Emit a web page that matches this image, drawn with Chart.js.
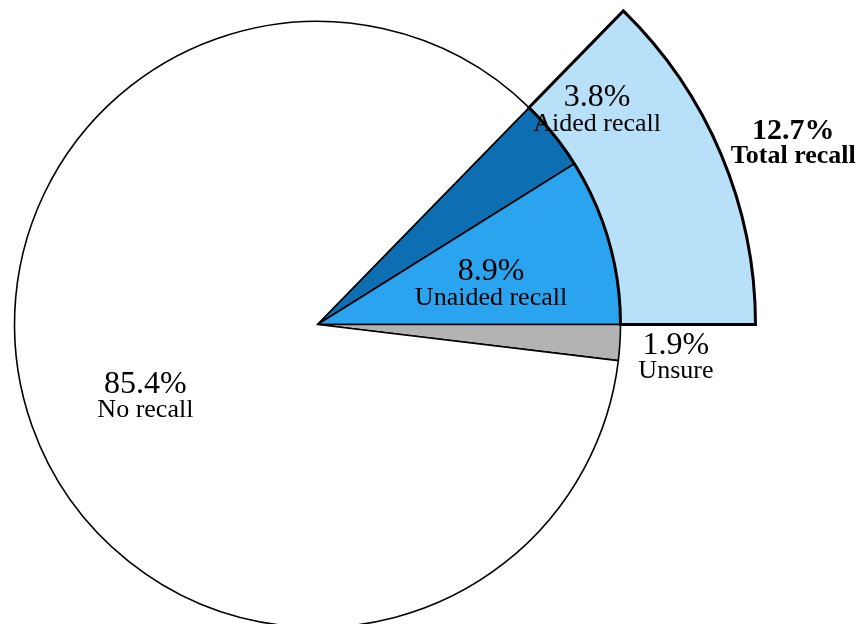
<!DOCTYPE html>
<html>
<head>
<meta charset="utf-8">
<script src="https://cdn.jsdelivr.net/npm/chart.js@4"></script>
<style>
  html, body { margin: 0; padding: 0; background: #fff; width: 862px; height: 624px; overflow: hidden; }
  #wrap { position: absolute; left: -122.5px; top: -115.5px; width: 989px; height: 879px; }
</style>
</head>
<body>
<div id="wrap"><canvas id="pieChart" width="989" height="879"></canvas></div>
<script>
// 데이터
const categories = ["Aided recall", "Unaided recall", "Unsure", "No recall"];
const shares = [3.8, 8.9, 1.9, 85.4];
const totalCategory = "Total recall";
const totalShare = 12.7;

const colors = ['#0d6fb1', '#2ba4ef', '#b3b3b3', '#ffffff'];

// 라벨 위치 (파이 중심 기준 각도/거리)
const labelPlace = {
  "Aided recall":   { angle: -37.4, r: 352 },
  "Unaided recall": { angle: -12.9, r: 178 },
  "Unsure":         { angle: 5.4,   r: 360 },
  "No recall":      { angle: 157,   r: 187 },
  "Total recall":   { angle: -20.8, r: 509, bold: true }
};

const labelPlugin = {
  id: 'sliceLabels',
  afterDatasetsDraw(chart) {
    const { ctx } = chart;
    const arc = chart.getDatasetMeta(1).data[0];
    const cx = arc.x, cy = arc.y;
    const items = categories.map((c, i) => ({ name: c, value: shares[i] }));
    items.push({ name: totalCategory, value: totalShare });

    ctx.save();
    ctx.textAlign = 'center';
    ctx.textBaseline = 'middle';
    ctx.fillStyle = '#000';
    items.forEach(it => {
      const p = labelPlace[it.name];
      const a = p.angle * Math.PI / 180;
      const x = cx + p.r * Math.cos(a);
      const y = cy + p.r * Math.sin(a);
      const w = p.bold ? 'bold ' : '';
      ctx.font = `${w}${p.bold ? 30 : 32}px "Liberation Serif", "Times New Roman", serif`;
      ctx.fillText(`${it.value}%`, x, y - 13);
      ctx.font = `${w}26px "Liberation Serif", "Times New Roman", serif`;
      ctx.fillText(it.name, x, y + 13);
    });
    ctx.restore();
  }
};

new Chart(document.getElementById('pieChart'), {
  type: 'pie',
  data: {
    labels: categories,
    datasets: [
      {
        // 바깥 링: Total recall
        data: [totalShare, 100 - totalShare],
        backgroundColor: ['#b8e0f8', 'rgba(0,0,0,0)'],
        borderColor: ['#000', 'rgba(0,0,0,0)'],
        borderWidth: [3, 0],
        borderJoinStyle: 'miter',
        weight: 135
      },
      {
        data: shares,
        backgroundColor: colors,
        borderColor: '#000',
        borderWidth: 1.6,
        borderJoinStyle: 'miter',
        weight: 303
      }
    ]
  },
  options: {
    responsive: false,
    animation: false,
    rotation: 90 - totalShare * 3.6,
    hoverOffset: 0,
    layout: { padding: { right: 110 } },
    plugins: {
      legend: { display: false },
      tooltip: { enabled: false },
      title: { display: false }
    },
    events: []
  },
  plugins: [labelPlugin]
});
</script>
</body>
</html>
